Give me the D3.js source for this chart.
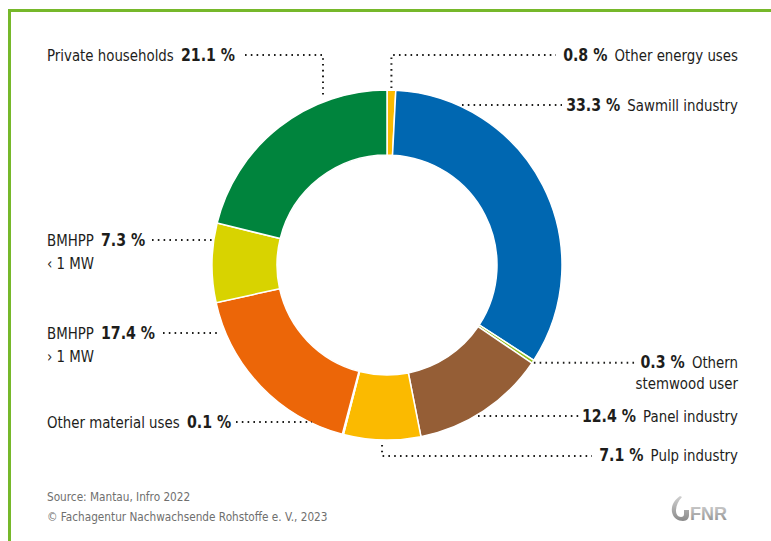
<!DOCTYPE html>
<html>
<head>
<meta charset="utf-8">
<script src="https://cdn.jsdelivr.net/npm/d3@7"></script>
<style>
  html, body { margin: 0; padding: 0; background: #fff; }
  svg text { font-family: "Liberation Sans Narrow", "DejaVu Sans Condensed", "Noto Sans", sans-serif; }
</style>
</head>
<body>
<svg id="chart" width="771" height="541"></svg>
<script>
// Stemwood use by sector, share in percent (clockwise from 12 o'clock)
const categories = [
  "Other energy uses", "Sawmill industry", "Othern stemwood user", "Panel industry",
  "Pulp industry", "Other material uses", "BMHPP > 1 MW", "BMHPP < 1 MW", "Private households"
];
const shares = [0.8, 33.3, 0.3, 12.4, 7.1, 0.1, 17.4, 7.3, 21.1];
const colors = ["#fbba00", "#0067b1", "#95c11f", "#955e36", "#fbba00", "#e4e4e4", "#ec6608", "#d8d300", "#00843d"];

// Label text: value label, category lines, side
const labelParts = [
  { pct: "0.8 %", name: ["Other energy uses"], side: "right" },
  { pct: "33.3 %", name: ["Sawmill industry"], side: "right" },
  { pct: "0.3 %", name: ["Othern", "stemwood user"], side: "right" },
  { pct: "12.4 %", name: ["Panel industry"], side: "right" },
  { pct: "7.1 %", name: ["Pulp industry"], side: "right" },
  { pct: "0.1 %", name: ["Other material uses"], side: "left" },
  { pct: "17.4 %", name: ["BMHPP", "› 1 MW"], side: "left" },
  { pct: "7.3 %", name: ["BMHPP", "‹ 1 MW"], side: "left" },
  { pct: "21.1 %", name: ["Private households"], side: "left" }
];

const svg = d3.select("#chart");
const W = 771, H = 541;
const cx = 387, cy = 265, rOuter = 175, rInner = 110;
const squeeze = 0.9; // horizontal condensing of the label type

// Green frame on the top and left edges
svg.append("path")
  .attr("d", `M9.5,${H} L9.5,10.5 L${W},10.5`)
  .attr("fill", "none").attr("stroke", "#76b82a").attr("stroke-width", 3);

const pie = d3.pie().sort(null).value(d => d).startAngle(0).endAngle(2 * Math.PI);
const arcs = pie(shares);
const arc = d3.arc().innerRadius(rInner).outerRadius(rOuter);

const g = svg.append("g").attr("transform", `translate(${cx},${cy})`);
g.selectAll("path.slice").data(arcs).join("path")
  .attr("class", "slice")
  .attr("d", arc)
  .attr("fill", (d, i) => colors[i])
  .attr("stroke", "#fff").attr("stroke-width", 1.5);

// Point on the outer rim at a given slice-relative fraction
function rim(d, f, r) {
  const a = d.startAngle + (d.endAngle - d.startAngle) * f;
  return [cx + r * Math.sin(a), cy - r * Math.cos(a)];
}

// Leader lines: polylines from the ring out to the labels
const leaders = [
  (() => { const p = rim(arcs[0], 0.5, rOuter); return [[p[0], p[1] - 2], [p[0], 55], [556, 55]]; })(),
  [[462, 105], [562, 105]],
  (() => { const p = rim(arcs[2], 0.5, rOuter); return [[p[0] + 1, p[1] + 1], [636, p[1] + 1]]; })(),
  [[478, 416], [582, 416]],
  (() => { const p = rim(arcs[4], 0.5, rOuter); return [[p[0], p[1] + 5], [p[0], 456], [592, 456]]; })(),
  [[236, 422], [312, 422]],
  [[163, 333], [218, 333]],
  [[152, 240], [215, 240]],
  [[245, 55], [323, 55], [323, 98]]
];
svg.selectAll("path.leader").data(leaders).join("path")
  .attr("class", "leader")
  .attr("d", d3.line())
  .attr("fill", "none").attr("stroke", "#1d1d1b").attr("stroke-width", 2)
  .attr("stroke-dasharray", "1.6,4.2").attr("stroke-linecap", "butt");

// Label anchors (baseline of first line)
const anchors = [
  [738, 61], [738, 111], [738, 368], [738, 422], [738, 461],
  [47, 428], [47, 339], [47, 246], [47, 61]
];

const nameSize = 16.5, pctSize = 17.5;
labelParts.forEach((lp, i) => {
  const [x, y] = anchors[i];
  const lg = svg.append("g").attr("transform", `translate(${x},${y}) scale(${squeeze},1)`)
    .attr("fill", "#1d1d1b");
  const t = lg.append("text");
  const anchor = lp.side === "right" ? "end" : "start";
  if (lp.side === "right") {
    t.attr("text-anchor", "end");
    t.append("tspan").attr("font-weight", "bold").attr("font-size", pctSize).text(lp.pct);
    t.append("tspan").attr("font-size", nameSize).attr("dx", 8).text(lp.name[0]);
  } else {
    t.append("tspan").attr("font-size", nameSize).text(lp.name[0]);
    t.append("tspan").attr("font-weight", "bold").attr("font-size", pctSize).attr("dx", 8).text(lp.pct);
  }
  for (let k = 1; k < lp.name.length; k++) {
    lg.append("text").attr("y", (lp.side === "right" ? 21 : 23) * k).attr("text-anchor", anchor)
      .attr("font-size", nameSize).text(lp.name[k]);
  }
});

// Source note
const foot = svg.append("g").attr("fill", "#6f6f6e").attr("font-size", 13);
foot.append("text").attr("transform", `translate(47,501) scale(${squeeze},1)`).text("Source: Mantau, Infro 2022");
foot.append("text").attr("transform", `translate(47,521) scale(${squeeze},1)`).text("© Fachagentur Nachwachsende Rohstoffe e. V., 2023");

// FNR logo mark
const defs = svg.append("defs");
const grad = defs.append("linearGradient").attr("id", "logoGrad").attr("x1", 0).attr("y1", 0).attr("x2", 0).attr("y2", 1);
grad.append("stop").attr("offset", 0).attr("stop-color", "#d0d0d0");
grad.append("stop").attr("offset", 1).attr("stop-color", "#8a8a8a");
const logo = svg.append("g").attr("transform", "translate(671,496)");
logo.append("path")
  .attr("d", "M9,0 C3,4 0,10 1,16 C2,22 7,25 12,25 C16,25 18,22 18,19 L18,14 L13,14 L13,18 C13,20 12,21 10,21 C7,21 5,18 5,15 C5,10 7,5 11,1 Z")
  .attr("fill", "url(#logoGrad)");
logo.append("text").attr("x", 19).attr("y", 24).attr("font-size", 18).attr("font-weight", "bold")
  .attr("fill", "url(#logoGrad)").style("font-family", "'Liberation Sans', Arial, sans-serif").text("FNR");
</script>
</body>
</html>
